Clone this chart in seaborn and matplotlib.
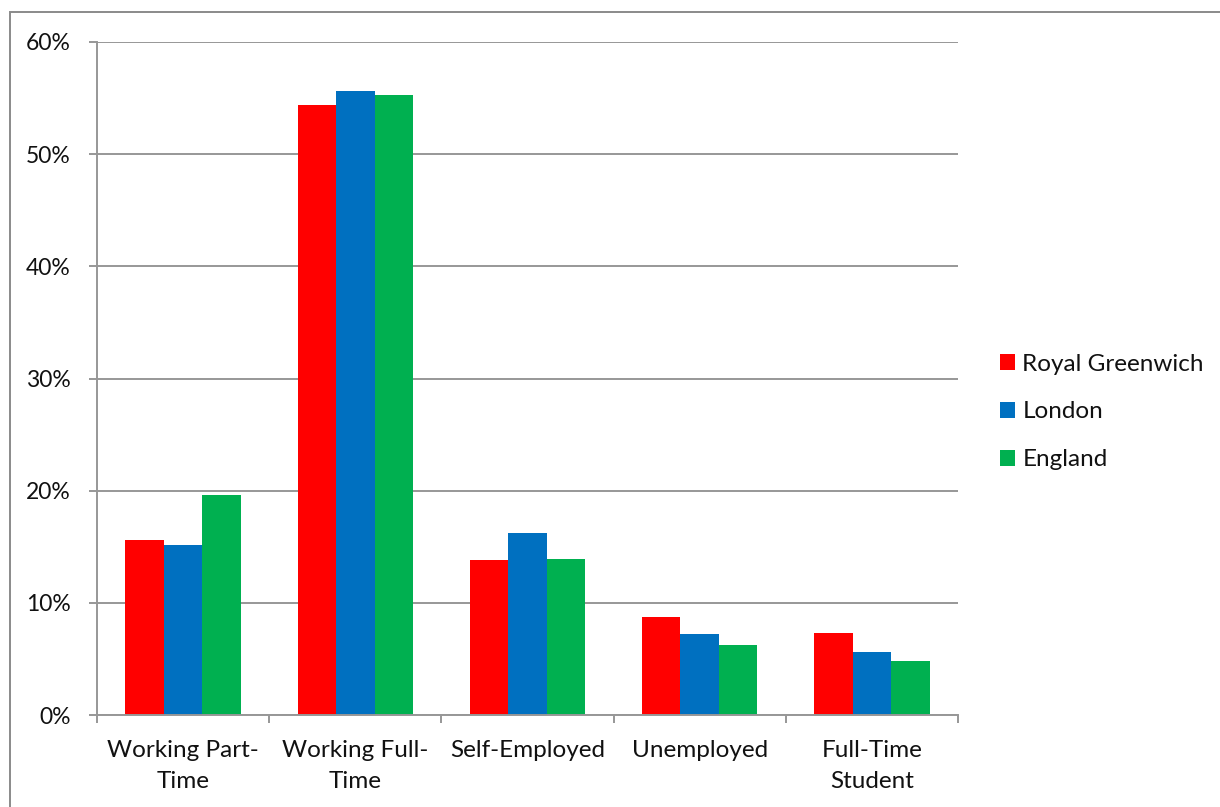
import matplotlib
matplotlib.use("Agg")
import matplotlib.pyplot as plt
import matplotlib.patches as mpatches
from matplotlib.ticker import FixedLocator, PercentFormatter
import seaborn as sns
import pandas as pd

categories = ["Working Part-\nTime", "Working Full-\nTime", "Self-Employed", "Unemployed", "Full-Time\nStudent"]
series_names = ["Royal Greenwich", "London", "England"]
royal_greenwich = [15.6, 54.4, 13.8, 8.7, 7.3]
london = [15.2, 55.6, 16.2, 7.2, 5.6]
england = [19.6, 55.3, 13.9, 6.2, 4.85]
colors = ["#FF0000", "#0070C0", "#00B050"]
y_ticks = [0, 10, 20, 30, 40, 50, 60]

rows = []
for name, vals in zip(series_names, [royal_greenwich, london, england]):
    for c, v in zip(categories, vals):
        rows.append({"category": c, "series": name, "value": v / 100.0})
df = pd.DataFrame(rows)

sns.set_theme(style="white")
plt.rcParams["font.family"] = ["Lato", "DejaVu Sans"]

fig = plt.figure(figsize=(12.2, 8.07), dpi=100)
ax = fig.add_axes([97 / 1220, 1 - 715 / 807, (958 - 97) / 1220, (715 - 42) / 807])

sns.barplot(data=df, x="category", y="value", hue="series", order=categories,
            hue_order=series_names, palette=colors, width=0.67, saturation=1,
            edgecolor="none", linewidth=0, ax=ax, legend=False)

ax.set_xlim(-0.5, len(categories) - 0.5)
ax.set_ylim(0, 0.6)
ax.set_yticks([t / 100 for t in y_ticks])
ax.yaxis.set_major_formatter(PercentFormatter(1.0, decimals=0))
ax.set_xlabel("")
ax.set_ylabel("")

grid_color = "#979797"
ax.grid(axis="y", color=grid_color, linewidth=1.4)
ax.set_axisbelow(True)
for s in ["top", "right"]:
    ax.spines[s].set_visible(False)
for s in ["left", "bottom"]:
    ax.spines[s].set_color(grid_color)
    ax.spines[s].set_linewidth(1.4)

ax.set_xticks(range(len(categories)))
ax.set_xticklabels(categories, linespacing=1.6)
ax.xaxis.set_minor_locator(FixedLocator([i - 0.5 for i in range(len(categories) + 1)]))
ax.tick_params(axis="x", which="major", length=0, pad=18, labelsize=17.5, colors="#111111")
ax.tick_params(axis="x", which="minor", length=6, width=1.4, color=grid_color, direction="out", bottom=True)
ax.tick_params(axis="y", which="major", length=6, width=1.4, color=grid_color, direction="out",
               left=True, pad=13, labelsize=16.5, labelcolor="#111111")

handles = [mpatches.Patch(facecolor=c, edgecolor="none", label=n) for c, n in zip(colors, series_names)]
fig.legend(handles=handles, loc="center left", bbox_to_anchor=(1000 / 1220, 1 - 412 / 807),
           frameon=False, fontsize=17.5, handlelength=0.62, handleheight=0.62,
           handletextpad=0.3, labelspacing=1.1, labelcolor="#111111",
           borderpad=0, borderaxespad=0)

fig.add_artist(mpatches.Rectangle((9.5 / 1220, -0.05), 1.1, (807 - 12) / 807 + 0.05,
                                  transform=fig.transFigure, fill=False,
                                  edgecolor="#8a8a8a", linewidth=1.4))

fig.savefig("out.png", dpi=100, facecolor="white")
